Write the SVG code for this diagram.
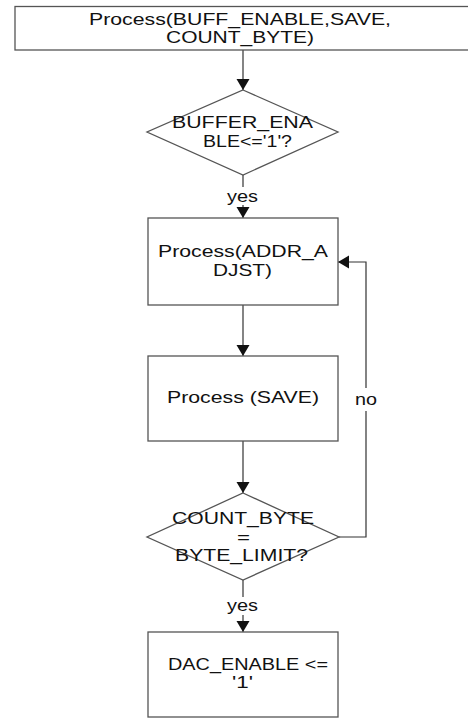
<svg xmlns="http://www.w3.org/2000/svg" width="468" height="718" viewBox="0 0 468 718">
  <style>
    .box { fill: #ffffff; stroke: #555555; stroke-width: 1.3; }
    .wire { fill: none; stroke: #333333; stroke-width: 1.2; }
    .lbl { font-family: "Liberation Sans", Arial, sans-serif; font-size: 16.5px; fill: #111111; }
  </style>
  <defs>
    <marker id="arrow" markerUnits="userSpaceOnUse" markerWidth="12" markerHeight="14" refX="11" refY="6.5" orient="auto">
      <path d="M0,0 L11,6.5 L0,13 z" fill="#111111"/>
    </marker>
  </defs>
  <rect width="468" height="718" fill="#ffffff"/>

  <!-- connectors -->
  <g id="connectors">
    <line class="wire" x1="243" y1="50" x2="243" y2="90" marker-end="url(#arrow)"/>
    <line class="wire" x1="243" y1="175" x2="243" y2="187"/>
    <line class="wire" x1="243" y1="205" x2="243" y2="218" marker-end="url(#arrow)"/>
    <line class="wire" x1="243" y1="305" x2="243" y2="356" marker-end="url(#arrow)"/>
    <line class="wire" x1="243" y1="441" x2="243" y2="493" marker-end="url(#arrow)"/>
    <line class="wire" x1="243" y1="580" x2="243" y2="597"/>
    <line class="wire" x1="243" y1="615" x2="243" y2="632" marker-end="url(#arrow)"/>
    <polyline class="wire" points="339,537 366,537 366,411"/>
    <polyline class="wire" points="366,388 366,262 338,262" marker-end="url(#arrow)"/>
    <text class="lbl" x="227" y="202" textLength="31" lengthAdjust="spacingAndGlyphs">yes</text>
    <text class="lbl" x="227" y="611" textLength="31" lengthAdjust="spacingAndGlyphs">yes</text>
    <text class="lbl" x="355" y="405" textLength="22" lengthAdjust="spacingAndGlyphs">no</text>
  </g>

  <!-- start process -->
  <g id="process-start">
    <rect class="box" x="15" y="6.5" width="460" height="43.5"/>
    <text class="lbl" x="89" y="25" textLength="302" lengthAdjust="spacingAndGlyphs">Process(BUFF_ENABLE,SAVE,</text>
    <text class="lbl" x="166" y="43" textLength="148" lengthAdjust="spacingAndGlyphs">COUNT_BYTE)</text>
  </g>

  <!-- buffer enable check -->
  <g id="decision-buffer">
    <polygon class="box" points="243,90 338,132 243,175 147,132"/>
    <text class="lbl" x="172" y="128" textLength="141" lengthAdjust="spacingAndGlyphs">BUFFER_ENA</text>
    <text class="lbl" x="203" y="147" textLength="89" lengthAdjust="spacingAndGlyphs">BLE&lt;='1'?</text>
  </g>

  <!-- address adjust -->
  <g id="process-addr">
    <rect class="box" x="148" y="218" width="190" height="87"/>
    <text class="lbl" x="158" y="257" textLength="170" lengthAdjust="spacingAndGlyphs">Process(ADDR_A</text>
    <text class="lbl" x="213" y="276" textLength="59" lengthAdjust="spacingAndGlyphs">DJST)</text>
  </g>

  <!-- save -->
  <g id="process-save">
    <rect class="box" x="148" y="356" width="190" height="85"/>
    <text class="lbl" x="167" y="403" textLength="152" lengthAdjust="spacingAndGlyphs">Process (SAVE)</text>
  </g>

  <!-- byte count check -->
  <g id="decision-count">
    <polygon class="box" points="243,493 339,537 243,580 147,537"/>
    <text class="lbl" x="172" y="524" textLength="142" lengthAdjust="spacingAndGlyphs">COUNT_BYTE</text>
    <text class="lbl" x="237" y="543" textLength="13" lengthAdjust="spacingAndGlyphs">=</text>
    <text class="lbl" x="175" y="561" textLength="133" lengthAdjust="spacingAndGlyphs">BYTE_LIMIT?</text>
  </g>

  <!-- DAC enable -->
  <g id="process-dac">
    <rect class="box" x="148" y="632" width="190" height="85"/>
    <text class="lbl" x="168" y="670" textLength="160" lengthAdjust="spacingAndGlyphs">DAC_ENABLE &lt;=</text>
    <text class="lbl" x="232" y="688" textLength="21" lengthAdjust="spacingAndGlyphs">'1'</text>
  </g>
</svg>
